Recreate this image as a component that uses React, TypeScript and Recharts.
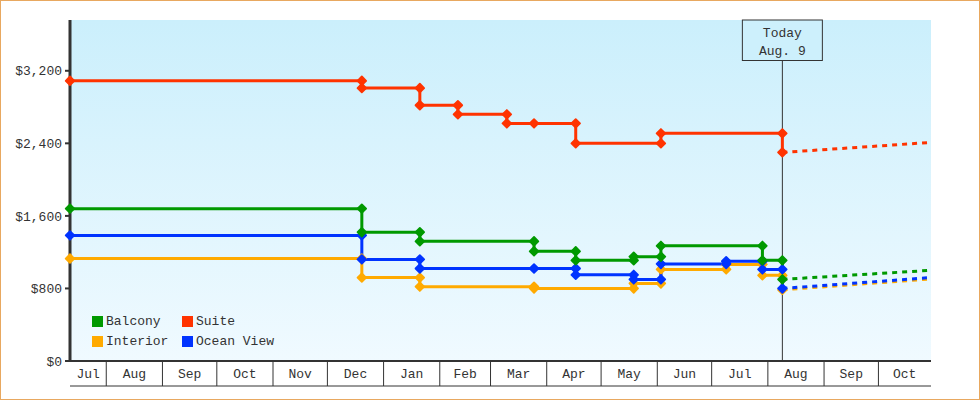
import React from "react";
import { LineChart, Line, XAxis, YAxis, CartesianGrid, ReferenceLine } from "recharts";

const FONT = '"Liberation Mono", "DejaVu Sans Mono", monospace';
const INK = "#333";

// time axis
const domainStart = "2012-07-12";
const domainEnd = "2013-10-30";
const monthStarts = [
  "2012-08-01", "2012-09-01", "2012-10-01", "2012-11-01", "2012-12-01",
  "2013-01-01", "2013-02-01", "2013-03-01", "2013-04-01", "2013-05-01",
  "2013-06-01", "2013-07-01", "2013-08-01", "2013-09-01", "2013-10-01",
];
const monthLabels = ["Jul", "Aug", "Sep", "Oct", "Nov", "Dec", "Jan", "Feb", "Mar", "Apr", "May", "Jun", "Jul", "Aug", "Sep", "Oct"];
const today = "2013-08-09";

const priceTicks = [0, 800, 1600, 2400, 3200];

// fares, [date, price] - each change is drawn as old/new pair on the same day
const suiteFares: [string, number][] = [
  ["2012-07-12", 3090], ["2012-12-20", 3090], ["2012-12-20", 3010],
  ["2013-01-21", 3010], ["2013-01-21", 2820], ["2013-02-11", 2820], ["2013-02-11", 2720],
  ["2013-03-10", 2720], ["2013-03-10", 2620], ["2013-03-25", 2620],
  ["2013-04-17", 2620], ["2013-04-17", 2400], ["2013-06-03", 2400], ["2013-06-03", 2510],
  ["2013-08-09", 2510], ["2013-08-09", 2300],
];
const balconyFares: [string, number][] = [
  ["2012-07-12", 1680], ["2012-12-20", 1680], ["2012-12-20", 1420],
  ["2013-01-21", 1420], ["2013-01-21", 1320], ["2013-03-25", 1320], ["2013-03-25", 1210],
  ["2013-04-17", 1210], ["2013-04-17", 1110], ["2013-05-19", 1110], ["2013-05-19", 1150],
  ["2013-06-03", 1150], ["2013-06-03", 1270], ["2013-07-29", 1270], ["2013-07-29", 1110],
  ["2013-08-09", 1110], ["2013-08-09", 900],
];
const oceanViewFares: [string, number][] = [
  ["2012-07-12", 1385], ["2012-12-20", 1385], ["2012-12-20", 1120],
  ["2013-01-21", 1120], ["2013-01-21", 1020], ["2013-03-25", 1020],
  ["2013-04-17", 1020], ["2013-04-17", 950], ["2013-05-19", 950], ["2013-05-19", 900],
  ["2013-06-03", 900], ["2013-06-03", 1070], ["2013-07-09", 1070], ["2013-07-09", 1100],
  ["2013-07-29", 1100], ["2013-07-29", 1010], ["2013-08-09", 1010], ["2013-08-09", 800],
];
const interiorFares: [string, number][] = [
  ["2012-07-12", 1130], ["2012-12-20", 1130], ["2012-12-20", 920],
  ["2013-01-21", 920], ["2013-01-21", 820], ["2013-03-25", 820], ["2013-03-25", 800],
  ["2013-05-19", 800], ["2013-05-19", 855], ["2013-06-03", 855], ["2013-06-03", 1010],
  ["2013-07-09", 1010], ["2013-07-09", 1065], ["2013-07-29", 1065], ["2013-07-29", 945],
  ["2013-08-09", 945], ["2013-08-09", 785],
];

// projected fares after today
const suiteForecast: [string, number][] = [["2013-08-09", 2300], ["2013-10-30", 2410]];
const balconyForecast: [string, number][] = [["2013-08-09", 900], ["2013-10-30", 1000]];
const oceanViewForecast: [string, number][] = [["2013-08-09", 800], ["2013-10-30", 920]];
const interiorForecast: [string, number][] = [["2013-08-09", 785], ["2013-10-30", 905]];

const toTime = (s: string) => Date.parse(s + "T00:00:00Z");
const toRows = (pts: [string, number][]) => pts.map(([d, v]) => ({ t: toTime(d), v }));

const series = [
  { name: "Interior", color: "#ffaa00", fares: interiorFares, forecast: interiorForecast },
  { name: "Ocean View", color: "#0033ff", fares: oceanViewFares, forecast: oceanViewForecast },
  { name: "Balcony", color: "#009900", fares: balconyFares, forecast: balconyForecast },
  { name: "Suite", color: "#ff3300", fares: suiteFares, forecast: suiteForecast },
];
const legendOrder = ["Balcony", "Suite", "Interior", "Ocean View"];

const edges = [toTime(domainStart), ...monthStarts.map(toTime), toTime(domainEnd)];
const boundaryTicks = monthStarts.map(toTime);
const labelTicks = edges.slice(0, -1).map((e, i) => (e + edges[i + 1]) / 2);
const axisTicks = [...boundaryTicks, ...labelTicks].sort((a, b) => a - b);

const money = (v: number) => "$" + v.toLocaleString("en-US");

const MonthTick = (props: any) => {
  const { x, y, payload } = props;
  const v = payload.value;
  if (boundaryTicks.includes(v)) {
    return <line x1={x} x2={x} y1={y} y2={y + 25} stroke={INK} strokeWidth={1} />;
  }
  const i = labelTicks.indexOf(v);
  return (
    <text x={x} y={y + 17} textAnchor="middle" fontFamily={FONT} fontSize={13} fill={INK}>
      {monthLabels[i]}
    </text>
  );
};

const Diamond = (props: any) => {
  const { cx, cy, color } = props;
  if (cx == null || cy == null) return null;
  const r = 4.3;
  return (
    <path
      d={`M${cx},${cy - r}L${cx + r},${cy}L${cx},${cy + r}L${cx - r},${cy}Z`}
      fill={color}
      stroke={color}
      strokeWidth={1.8}
      strokeLinejoin="round"
    />
  );
};

const TodayLabel = (props: any) => {
  const { x, y } = props.viewBox;
  return (
    <g>
      <rect x={x - 40} y={y} width={80} height={40.5} fill="#cdf0fc" stroke={INK} strokeWidth={1} />
      <text x={x} y={y + 17} textAnchor="middle" fontFamily={FONT} fontSize={13} fill={INK}>Today</text>
      <text x={x} y={y + 35} textAnchor="middle" fontFamily={FONT} fontSize={13} fill={INK}>Aug. 9</text>
    </g>
  );
};

const FareLegend = () => (
  <div
    style={{
      position: "absolute",
      left: 91,
      top: 310,
      display: "grid",
      gridTemplateColumns: "90px auto",
      fontFamily: FONT,
      fontSize: 13,
      color: INK,
    }}
  >
    {legendOrder.map((name) => {
      const s = series.find((x) => x.name === name)!;
      return (
        <div key={name} style={{ display: "flex", alignItems: "center", height: 20 }}>
          <span style={{ width: 11, height: 11, background: s.color, marginRight: 3 }} />
          <span>{name}</span>
        </div>
      );
    })}
  </div>
);

export default function App() {
  return (
    <div
      style={{
        position: "absolute",
        left: 0,
        top: 0,
        width: 980,
        height: 400,
        boxSizing: "border-box",
        border: "1px solid #e8a860",
        background: "#fff",
      }}
    >
      <LineChart width={978} height={398} margin={{ top: 19, right: 48, bottom: 0, left: 0 }}>
        <defs>
          <linearGradient id="plotBg" x1="0" y1="0" x2="0" y2="1">
            <stop offset="0%" stopColor="#cbeffc" />
            <stop offset="100%" stopColor="#f0faff" />
          </linearGradient>
        </defs>
        <CartesianGrid horizontal={false} vertical={false} fill="url(#plotBg)" />
        <XAxis
          dataKey="t"
          type="number"
          domain={[toTime(domainStart), toTime(domainEnd)]}
          ticks={axisTicks}
          interval={0}
          tick={<MonthTick />}
          tickLine={false}
          tickSize={0}
          tickMargin={0}
          axisLine={{ stroke: INK, strokeWidth: 2 }}
          height={25}
        />
        <XAxis
          xAxisId="base"
          type="number"
          domain={[0, 1]}
          ticks={[]}
          tick={false}
          tickLine={false}
          axisLine={{ stroke: INK, strokeWidth: 1 }}
          height={13}
        />
        <YAxis
          type="number"
          domain={[0, 3760]}
          ticks={priceTicks}
          tickFormatter={money}
          width={69}
          tickSize={5}
          tickMargin={3}
          tickLine={{ stroke: INK, strokeWidth: 2 }}
          axisLine={{ stroke: INK, strokeWidth: 3 }}
          tick={{ fontFamily: FONT, fontSize: 13, fill: INK }}
        />
        <ReferenceLine x={toTime(today)} stroke={INK} strokeWidth={1} label={<TodayLabel />} />
        {series.map((s) => (
          <Line
            key={s.name + "-forecast"}
            data={toRows(s.forecast)}
            dataKey="v"
            stroke={s.color}
            strokeWidth={3}
            strokeDasharray="5 5"
            dot={false}
            activeDot={false}
            isAnimationActive={false}
          />
        ))}
        {series.map((s) => (
          <Line
            key={s.name}
            name={s.name}
            data={toRows(s.fares)}
            dataKey="v"
            stroke={s.color}
            strokeWidth={3}
            dot={(p: any) => <Diamond key={`${s.name}-${p.index}`} cx={p.cx} cy={p.cy} color={s.color} />}
            activeDot={false}
            isAnimationActive={false}
          />
        ))}
      </LineChart>
      <FareLegend />
    </div>
  );
}
